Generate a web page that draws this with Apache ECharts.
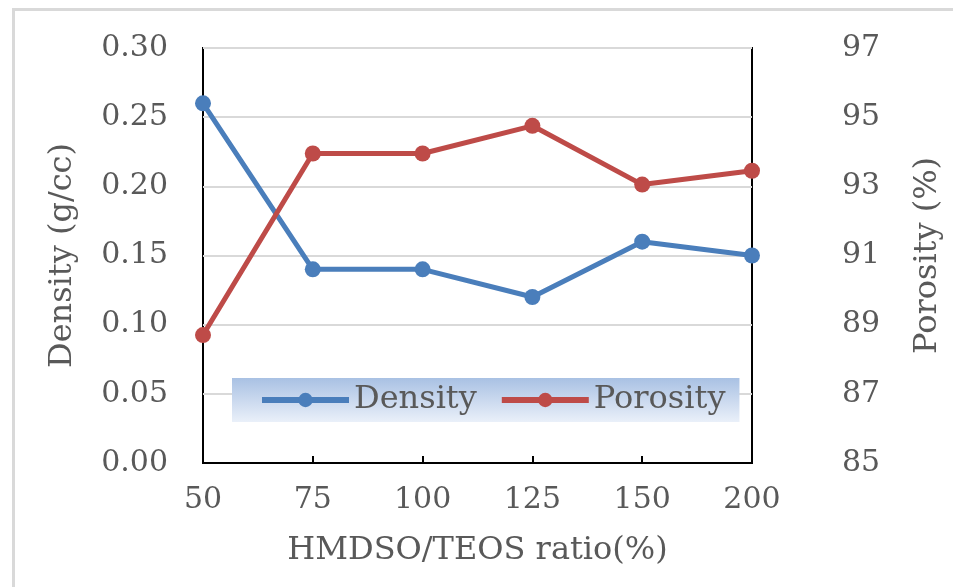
<!DOCTYPE html>
<html>
<head>
<meta charset="utf-8">
<script src="https://cdn.jsdelivr.net/npm/echarts@6/dist/echarts.min.js"></script>
<style>
html,body{margin:0;padding:0;background:#fff;}
#chart{width:953px;height:587px;}
</style>
</head>
<body>
<div id="chart"></div>
<script>
const categories = ['50', '75', '100', '125', '150', '200'];
const density = [0.26, 0.14, 0.14, 0.12, 0.16, 0.15];
const porosity = [88.7, 93.95, 93.95, 94.75, 93.05, 93.45];
const xTitle = 'HMDSO/TEOS ratio(%)';
const leftTitle = 'Density (g/cc)';
const rightTitle = 'Porosity (%)';

const FONT = 'DejaVu Serif';
const TXT = '#595959';

const chart = echarts.init(document.getElementById('chart'), null, {renderer: 'canvas'});
chart.setOption({
  backgroundColor: '#ffffff',
  animation: false,
  textStyle: {fontFamily: FONT},
  graphic: [{
    type: 'rect', left: 11, top: 7, silent: true,
    shape: {width: 960, height: 600},
    style: {fill: 'none', stroke: '#d9d9d9', lineWidth: 3}
  }],
  grid: {left: 203, right: 201, top: 48, bottom: 124, show: true, borderColor: '#000', borderWidth: 2, backgroundColor: 'transparent'},
  legend: {
    left: 232, top: 378,
    padding: [6, 14, 6, 27],
    itemGap: 22,
    itemWidth: 87, itemHeight: 18,
    lineStyle: {width: 6},
    backgroundColor: new echarts.graphic.LinearGradient(0, 0, 0, 1, [
      {offset: 0, color: '#a9c1e3'},
      {offset: 1, color: '#eaf0f9'}
    ]),
    textStyle: {fontFamily: FONT, fontSize: 32, color: TXT},
    data: ['Density', 'Porosity']
  },
  xAxis: {
    type: 'category', data: categories, boundaryGap: false,
    name: xTitle, nameLocation: 'middle', nameGap: 72,
    nameTextStyle: {fontFamily: FONT, fontSize: 32, color: TXT},
    axisLine: {lineStyle: {color: '#000', width: 2}},
    axisTick: {inside: true, length: 7, lineStyle: {color: '#000', width: 2}},
    axisLabel: {fontFamily: FONT, fontSize: 30, color: TXT, margin: 22}
  },
  yAxis: [{
    type: 'value', min: 0, max: 0.3, interval: 0.05,
    name: leftTitle, nameLocation: 'middle', nameGap: 124, nameRotate: 90,
    nameTextStyle: {fontFamily: FONT, fontSize: 32, color: TXT},
    axisLine: {show: false}, axisTick: {show: false},
    axisLabel: {fontFamily: FONT, fontSize: 30, color: TXT, margin: 35, formatter: v => v.toFixed(2)},
    splitLine: {lineStyle: {color: '#d9d9d9', width: 2}}
  }, {
    type: 'value', min: 85, max: 97, interval: 2, position: 'right',
    name: rightTitle, nameLocation: 'middle', nameGap: 160, nameRotate: 90,
    nameTextStyle: {fontFamily: FONT, fontSize: 32, color: TXT},
    axisLine: {show: false}, axisTick: {show: false},
    axisLabel: {fontFamily: FONT, fontSize: 30, color: TXT, margin: 90, align: 'left'},
    splitLine: {show: false}
  }],
  series: [{
    name: 'Density', type: 'line', yAxisIndex: 0, data: density,
    symbol: 'circle', symbolSize: 16,
    lineStyle: {width: 5, color: '#4a7ebb'},
    itemStyle: {color: '#4a7ebb'}
  }, {
    name: 'Porosity', type: 'line', yAxisIndex: 1, data: porosity,
    symbol: 'circle', symbolSize: 16,
    lineStyle: {width: 5, color: '#be4b48'},
    itemStyle: {color: '#be4b48'}
  }]
});
</script>
</body>
</html>
